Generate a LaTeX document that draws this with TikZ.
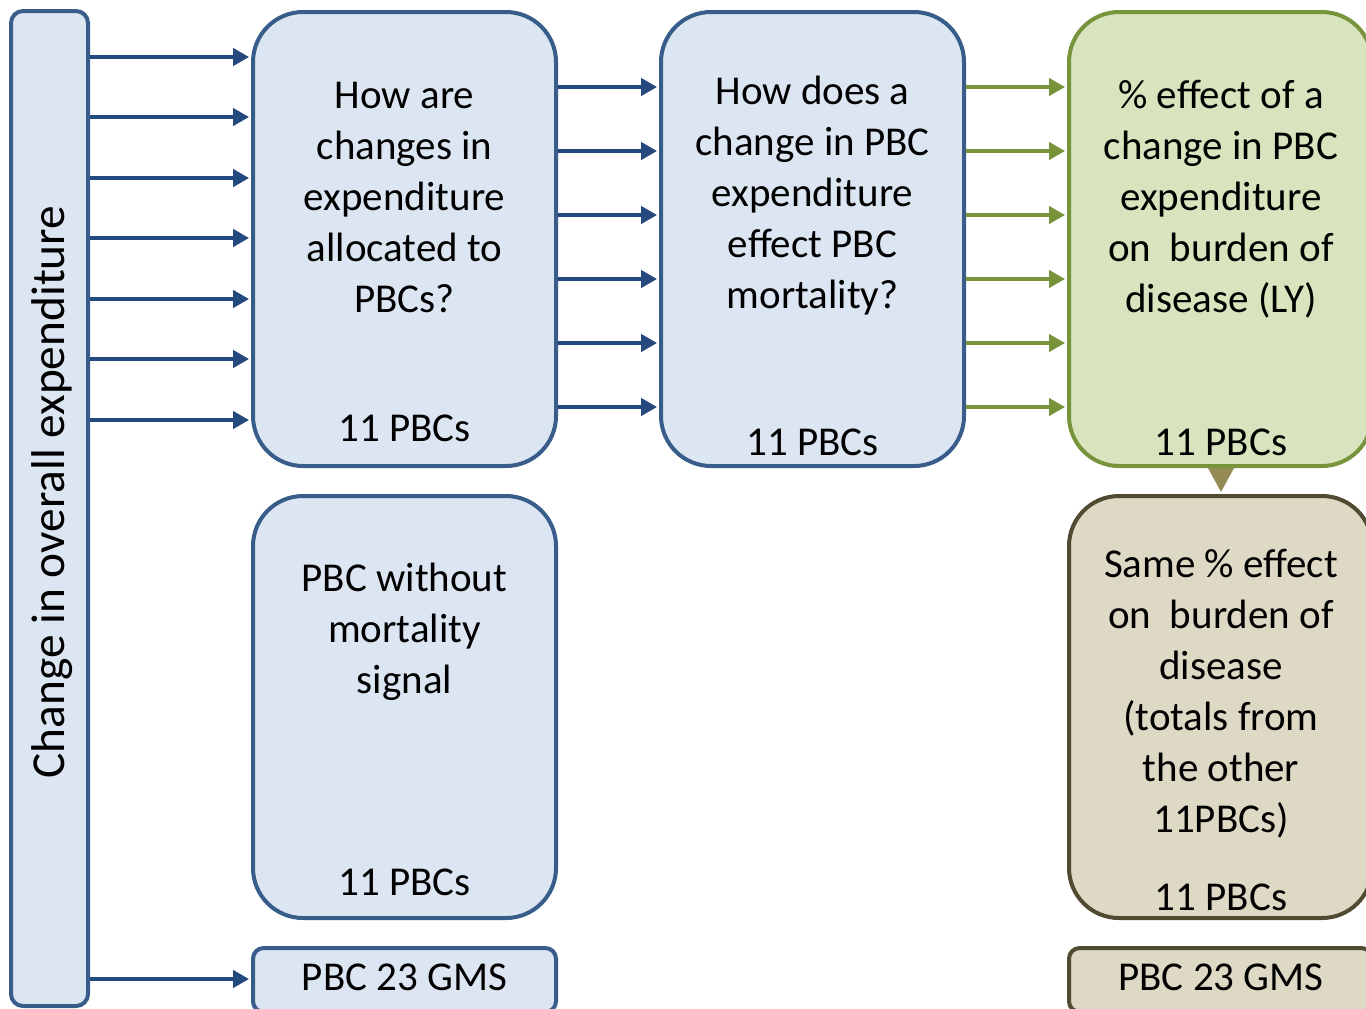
\documentclass[tikz,border=0pt]{standalone}
\usepackage{fontspec}
\setmainfont{Carlito}
\usetikzlibrary{arrows.meta}
\definecolor{bfill}{HTML}{DCE6F2}
\definecolor{bline}{HTML}{385D8A}
\definecolor{barrow}{HTML}{24497F}
\definecolor{gfill}{HTML}{D7E4BD}
\definecolor{gline}{HTML}{77933C}
\definecolor{tfill}{HTML}{DDD9C4}
\definecolor{tline}{HTML}{4F4A30}
\definecolor{tarrow}{HTML}{948A54}
\tikzset{
  box/.style={draw, line width=3pt, rounded corners=37.5pt, inner sep=0pt, minimum width=227.25pt},
  bluebox/.style={box, draw=bline, fill=bfill},
  greenbox/.style={box, draw=gline, fill=gfill},
  tanbox/.style={box, draw=tline, fill=tfill},
  txt/.style={font=\fontsize{30.75}{38.25}\selectfont, align=center, inner sep=0pt},
  barr/.style={draw=barrow, line width=2.6pt, -{Triangle[length=12pt,width=13pt]}, shorten >=1.5pt},
  garr/.style={draw=gline, line width=2.6pt, -{Triangle[length=12pt,width=13pt]}, shorten >=1.5pt},
}
\begin{document}
\begin{tikzpicture}[x=0.75pt,y=-0.75pt]
\useasboundingbox (0,0) rectangle (1366,1008);
% boxes
\node[bluebox, rounded corners=9pt, minimum width=57.75pt, minimum height=746.25pt] (L) at (49.5,508.5) {};
\node[bluebox, minimum height=340.5pt] (A) at (404.5,239) {};
\node[bluebox, minimum height=340.5pt] (B) at (812.5,239) {};
\node[greenbox, minimum height=340.5pt] (C) at (1220.5,239) {};
\node[bluebox, minimum height=316.5pt] (D) at (404.5,707) {};
\node[tanbox, minimum height=316.5pt] (E) at (1220.5,707) {};
\node[bluebox, rounded corners=8pt, minimum height=48pt] (F) at (404.5,980) {};
\node[tanbox, rounded corners=8pt, minimum height=48pt] (G) at (1220.5,980) {};
% texts
\node[txt, font=\fontsize{35.5}{42}\selectfont, rotate=90] (Lt) at (52,492) {Change in overall expenditure};
\node[txt] (At) at (404.5,197) {How are\\changes in\\expenditure\\allocated to\\PBCs?};
\node[txt] (An) at (404.5,428) {11 PBCs};
\node[txt] (Bt) at (812.5,196) {How does a\\change in PBC\\expenditure\\effect PBC\\mortality?};
\node[txt] (Bn) at (812.5,442) {11 PBCs};
\node[txt] (Ct) at (1221,199) {\% effect of a\\change in PBC\\expenditure\\on\ \ burden of\\disease (LY)};
\node[txt] (Cn) at (1221,442) {11 PBCs};
\node[txt] (Dt) at (404.5,632) {PBC without\\mortality\\signal};
\node[txt] (Dn) at (404.5,882) {11 PBCs};
\node[txt] (Et) at (1221,694) {Same \% effect\\on\ \ burden of\\disease\\(totals from\\the other\\11PBCs)};
\node[txt] (En) at (1221,897) {11 PBCs};
\node[txt] (Ft) at (404.5,977) {PBC 23 GMS};
\node[txt] (Gt) at (1221,977) {PBC 23 GMS};
% arrows L -> A
\foreach \y in {57,117,178,238,299,359,420}
  \draw[barr] (L.east |- 0,\y) -- (A.west |- 0,\y);
\draw[barr] (L.east |- 0,979) -- (F.west |- 0,979);
% arrows A -> B, B -> C
\foreach \y in {87,151,215,279,343,407}{
  \draw[barr] (A.east |- 0,\y) -- (B.west |- 0,\y);
  \draw[garr] (B.east |- 0,\y) -- (C.west |- 0,\y);
}
% C -> E
\draw[draw=tarrow, line width=2pt, -{Triangle[length=18pt,width=19pt]}, shorten >=1.5pt] (C.south -| Cn) -- (E.north -| Cn);
\end{tikzpicture}
\end{document}
